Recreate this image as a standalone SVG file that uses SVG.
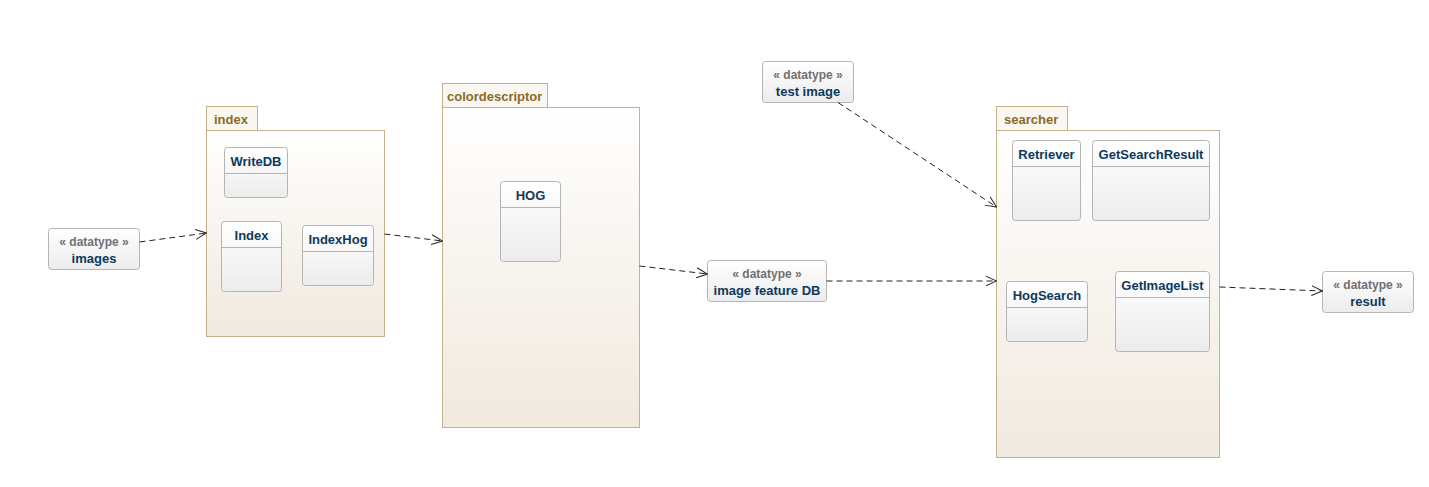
<svg xmlns="http://www.w3.org/2000/svg" width="1429" height="487" viewBox="0 0 1429 487">
<defs>
<linearGradient id="pkg" x1="0" y1="0" x2="0" y2="1"><stop offset="0" stop-color="#ffffff"/><stop offset="1" stop-color="#f0e9de"/></linearGradient>
<linearGradient id="cls" x1="0" y1="0" x2="0" y2="1"><stop offset="0" stop-color="#ffffff"/><stop offset="1" stop-color="#ececec"/></linearGradient>
<marker id="arr" viewBox="0 0 12 12" refX="11" refY="6" markerWidth="12" markerHeight="12" markerUnits="userSpaceOnUse" orient="auto"><path d="M0,1 L11,6 L0,11" fill="none" stroke="#222" stroke-width="1"/></marker>
</defs>
<style>
.pk{fill:url(#pkg);stroke:#c2b28d;stroke-width:1}
.tab{fill:#faf7f1;stroke:#c2b28d;stroke-width:1}
.pt{font-family:"Liberation Sans",Arial,sans-serif;font-size:13px;font-weight:bold;fill:#8a6a2a}
.c{fill:url(#cls);stroke:#b5b5b5;stroke-width:1}
.dv{stroke:#b5b5b5;stroke-width:1}
.ct{font-family:"Liberation Sans",Arial,sans-serif;font-size:13px;font-weight:bold;fill:#0d3a5c;text-anchor:middle}
.st{font-family:"Liberation Sans",Arial,sans-serif;font-size:12px;font-weight:bold;fill:#707070;text-anchor:middle}
.e{fill:none;stroke:#222;stroke-width:1;stroke-dasharray:6,4;marker-end:url(#arr)}
</style>
<rect width="1429" height="487" fill="#ffffff"/>

<g id="pkg-index">
<rect class="tab" x="206.5" y="106.5" width="51" height="24"/>
<rect class="pk" x="206.5" y="130.5" width="178" height="206"/>
<text class="pt" x="214" y="124">index</text>
</g>
<g id="WriteDB"><rect class="c" x="224.5" y="147.5" width="63" height="50" rx="3"/><line class="dv" x1="224.5" y1="173.5" x2="287.5" y2="173.5"/><text class="ct" x="256" y="166">WriteDB</text></g>
<g id="Index"><rect class="c" x="221.5" y="221.5" width="60" height="70" rx="3"/><line class="dv" x1="221.5" y1="247.5" x2="281.5" y2="247.5"/><text class="ct" x="251.5" y="240">Index</text></g>
<g id="IndexHog"><rect class="c" x="302.5" y="225.5" width="71" height="60" rx="3"/><line class="dv" x1="302.5" y1="251.5" x2="373.5" y2="251.5"/><text class="ct" x="338" y="244">IndexHog</text></g>

<g id="pkg-colordescriptor">
<rect class="tab" x="442.5" y="83.5" width="105" height="24"/>
<rect class="pk" x="442.5" y="107.5" width="197" height="320"/>
<text class="pt" x="447" y="101">colordescriptor</text>
</g>
<g id="HOG"><rect class="c" x="500.5" y="181.5" width="60" height="80" rx="3"/><line class="dv" x1="500.5" y1="207.5" x2="560.5" y2="207.5"/><text class="ct" x="530.5" y="200">HOG</text></g>

<g id="pkg-searcher">
<rect class="tab" x="996.5" y="106.5" width="71" height="24"/>
<rect class="pk" x="996.5" y="130.5" width="223" height="327"/>
<text class="pt" x="1004" y="124">searcher</text>
</g>
<g id="Retriever"><rect class="c" x="1012.5" y="140.5" width="68" height="80" rx="3"/><line class="dv" x1="1012.5" y1="166.5" x2="1080.5" y2="166.5"/><text class="ct" x="1046.5" y="159">Retriever</text></g>
<g id="GetSearchResult"><rect class="c" x="1092.5" y="140.5" width="117" height="80" rx="3"/><line class="dv" x1="1092.5" y1="166.5" x2="1209.5" y2="166.5"/><text class="ct" x="1151" y="159">GetSearchResult</text></g>
<g id="HogSearch"><rect class="c" x="1006.5" y="281.5" width="81" height="60" rx="3"/><line class="dv" x1="1006.5" y1="307.5" x2="1087.5" y2="307.5"/><text class="ct" x="1047" y="300">HogSearch</text></g>
<g id="GetImageList"><rect class="c" x="1115.5" y="271.5" width="94" height="80" rx="3"/><line class="dv" x1="1115.5" y1="297.5" x2="1209.5" y2="297.5"/><text class="ct" x="1162.5" y="290">GetImageList</text></g>

<g id="images"><rect class="c" x="48.5" y="228.5" width="91" height="41" rx="3"/><text class="st" x="94" y="246">« datatype »</text><text class="ct" x="94" y="263">images</text></g>
<g id="test-image"><rect class="c" x="762.5" y="61.5" width="91" height="41" rx="3"/><text class="st" x="808" y="79">« datatype »</text><text class="ct" x="808" y="96">test image</text></g>
<g id="image-feature-DB"><rect class="c" x="707.5" y="260.5" width="119" height="41" rx="3"/><text class="st" x="767" y="278">« datatype »</text><text class="ct" x="767" y="295">image feature DB</text></g>
<g id="result"><rect class="c" x="1322.5" y="271.5" width="91" height="41" rx="3"/><text class="st" x="1368" y="289">« datatype »</text><text class="ct" x="1368" y="306">result</text></g>

<g id="connectors">
<line class="e" x1="139.5" y1="242" x2="206.5" y2="233"/>
<line class="e" x1="384.5" y1="234" x2="442.5" y2="241"/>
<line class="e" x1="639.5" y1="266" x2="707.5" y2="274"/>
<line class="e" x1="826.5" y1="281" x2="996.5" y2="281"/>
<line class="e" x1="838" y1="102.5" x2="996.5" y2="207"/>
<line class="e" x1="1219.5" y1="287" x2="1322.5" y2="291"/>
</g>
</svg>
